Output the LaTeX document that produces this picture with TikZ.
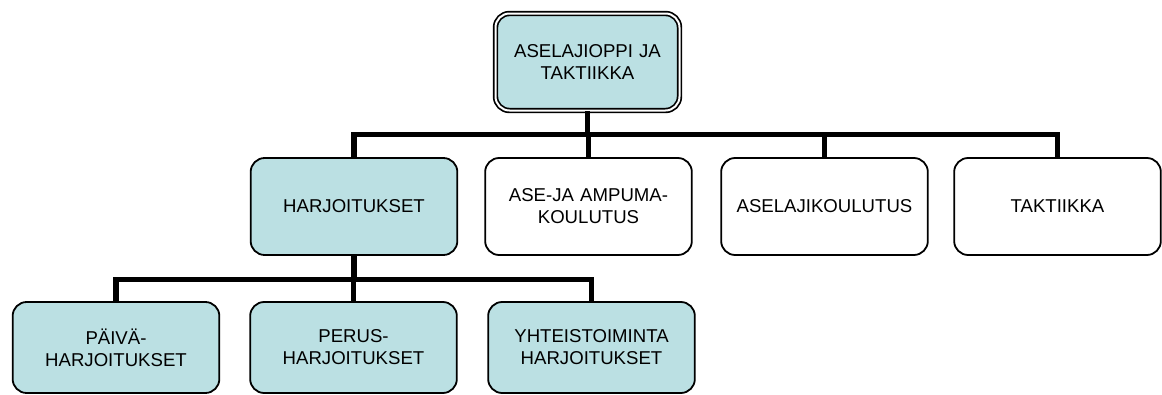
\documentclass[tikz,border=0pt]{standalone}
\usepackage{fontspec}
\setmainfont{Liberation Sans}
\usepackage{tikz}
\definecolor{boxfill}{RGB}{187,224,227}

\begin{document}
\begin{tikzpicture}[x=1pt,y=-1pt,
  box/.style={draw=black,line width=1.8pt,rounded corners=14pt,
    minimum width=205pt,minimum height=97pt,text width=200pt,align=center,
    font=\fontsize{18.6}{22}\selectfont},
  lowbox/.style={box,minimum height=91pt},
  teal/.style={fill=boxfill},
  conn/.style={line width=5.5pt}]
\useasboundingbox (0,0) rectangle (1162,394);
%draw top box:
\node[box,teal,draw=black,line width=1.7pt,double=white,double distance=2pt,
  minimum width=184pt,minimum height=97pt,text width=170pt] (oppi) at (587.5,62)
  {ASELAJIOPPI JA\\TAKTIIKKA};
%draw second row:
\node[box,teal] (harj) at (354,206.5) {HARJOITUKSET};
\node[box] (ase) at (588.5,206.5) {ASE-JA AMPUMA-\\KOULUTUS};
\node[box] (asel) at (824.5,206.5) {ASELAJIKOULUTUS};
\node[box] (takt) at (1057.5,206.5) {TAKTIIKKA};
%draw third row:
\node[lowbox,teal] (paiva) at (116,347.5) {PÄIVÄ-\\HARJOITUKSET};
\node[lowbox,teal] (perus) at (353.5,347.5) {PERUS-\\HARJOITUKSET};
\node[lowbox,teal] (yht) at (591.5,347.5) {YHTEISTOIMINTA\\HARJOITUKSET};
%draw connectors:
\coordinate (ylin) at (587.5,134.5);
\coordinate (alin) at (354,279.5);
\draw[conn] (oppi.south) -- (ylin);
\draw[conn] (ylin) -| (harj.north);
\draw[conn] (ylin) -| (ase.north);
\draw[conn] (ylin) -| (asel.north);
\draw[conn] (ylin) -| (takt.north);
\draw[conn] (harj.south) -- (alin);
\draw[conn] (alin) -| (paiva.north);
\draw[conn] (alin) -| (perus.north);
\draw[conn] (alin) -| (yht.north);
\end{tikzpicture}
\end{document}
